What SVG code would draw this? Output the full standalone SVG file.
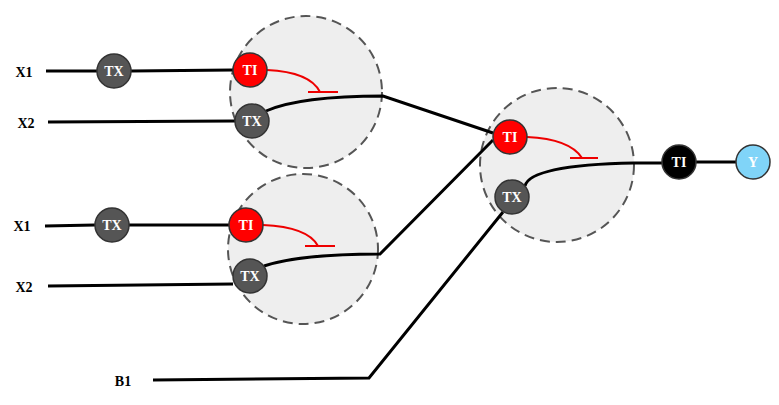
<svg xmlns="http://www.w3.org/2000/svg" width="779" height="405" viewBox="0 0 779 405">
<style>
.cell{fill:#eeeeee;stroke:#555;stroke-width:2;stroke-dasharray:10 6}
.w{fill:none;stroke:#000;stroke-width:3}
.inh{fill:none;stroke:#e00;stroke-width:2}
.n{stroke:#333;stroke-width:1.5}
.tx{fill:#555}.ti{fill:#f00}.tb{fill:#000}.y{fill:#80d4f8}
.nl{font-family:"Liberation Serif",serif;font-weight:bold;font-size:14px;fill:#fff;text-anchor:middle;dominant-baseline:central}
.lb{font-family:"Liberation Serif",serif;font-weight:bold;font-size:14px;fill:#000;text-anchor:middle;dominant-baseline:central}
</style>
<rect width="779" height="405" fill="#fff"/>
<g id="cells">
<circle class="cell" cx="306" cy="92" r="76"/>
<circle class="cell" cx="303" cy="249" r="75"/>
<circle class="cell" cx="557" cy="165" r="77"/>
</g>
<g id="connectors">
<path class="w" d="M46 71H97M131 71L233 70M48 122L235 121M266 111Q300 96 383 96L493 133"/>
<path class="w" d="M45 226L95 225M129 225H229M48 286L233 284M264 266Q300 254 380 254L493 140"/>
<path class="w" d="M525 186Q530 165 634 163H662M696 162H736"/>
<path class="w" d="M153 380L369 378L503 212"/>
<path class="inh" d="M267 70Q310 72 320 92M308 92H338"/>
<path class="inh" d="M263 225Q308 227 318 246M305 246H335"/>
<path class="inh" d="M527 137Q570 139 582 158M570 158H598"/>
</g>
<g id="labels">
<text class="lb" x="24" y="72">X1</text>
<text class="lb" x="26" y="123">X2</text>
<text class="lb" x="22" y="226">X1</text>
<text class="lb" x="24" y="287">X2</text>
<text class="lb" x="123" y="381">B1</text>
</g>
<g id="tx1"><circle class="n tx" cx="114" cy="71" r="17"/><text class="nl" x="114" y="71">TX</text></g>
<g id="ti1"><circle class="n ti" cx="250" cy="70" r="17"/><text class="nl" x="250" y="70">TI</text></g>
<g id="tx2"><circle class="n tx" cx="252" cy="121" r="17"/><text class="nl" x="252" y="121">TX</text></g>
<g id="tx3"><circle class="n tx" cx="112" cy="225" r="17"/><text class="nl" x="112" y="225">TX</text></g>
<g id="ti2"><circle class="n ti" cx="246" cy="225" r="17"/><text class="nl" x="246" y="225">TI</text></g>
<g id="tx4"><circle class="n tx" cx="250" cy="276" r="17"/><text class="nl" x="250" y="276">TX</text></g>
<g id="ti3"><circle class="n ti" cx="510" cy="137" r="17"/><text class="nl" x="510" y="137">TI</text></g>
<g id="tx5"><circle class="n tx" cx="512" cy="197" r="17"/><text class="nl" x="512" y="197">TX</text></g>
<g id="ti4"><circle class="n tb" cx="679" cy="162" r="17"/><text class="nl" x="679" y="162">TI</text></g>
<g id="y"><circle class="n y" cx="753" cy="162" r="17"/><text class="nl" x="753" y="162">Y</text></g>
</svg>
